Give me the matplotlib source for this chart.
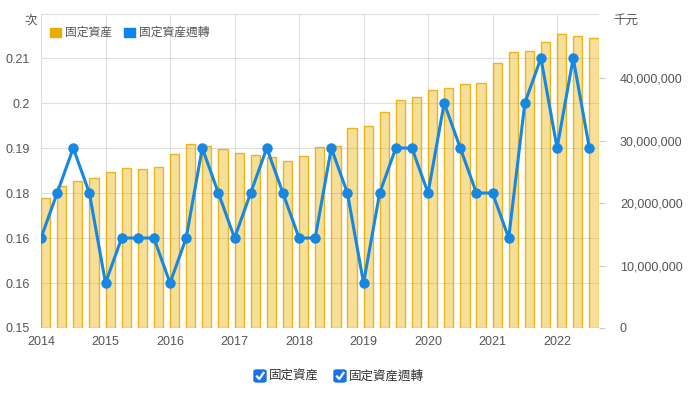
import matplotlib.pyplot as plt
from matplotlib.patches import Rectangle, FancyBboxPatch
from matplotlib.lines import Line2D
from matplotlib.ticker import FuncFormatter

plt.rcParams['font.family'] = ['Liberation Sans', 'Noto Sans CJK TC', 'DejaVu Sans']

# 四半期ラベル
quarters = [f"{y}Q{q}" for y in range(2014, 2023) for q in range(1, 5)][:35]

# 固定資産（千元）
fixed_assets = [20750000, 22700000, 23500000, 24050000, 24960000, 25550000, 25440000,
                25700000, 27800000, 29400000, 29200000, 28700000, 28050000, 27700000,
                27360000, 26670000, 27570000, 29000000, 29100000, 32000000, 32400000,
                34500000, 36500000, 36960000, 38080000, 38350000, 38990000, 39250000,
                42350000, 44100000, 44270000, 45700000, 47000000, 46770000, 46450000]

# 固定資産週轉（次）
turnover = [0.17, 0.18, 0.19, 0.18, 0.16, 0.17, 0.17, 0.17, 0.16, 0.17, 0.19, 0.18,
            0.17, 0.18, 0.19, 0.18, 0.17, 0.17, 0.19, 0.18, 0.16, 0.18, 0.19, 0.19,
            0.18, 0.20, 0.19, 0.18, 0.18, 0.17, 0.20, 0.21, 0.19, 0.21, 0.19]

left_ticks = [0.15, 0.16, 0.17, 0.18, 0.19, 0.20, 0.21]
left_labels = ['0.15', '0.16', '0.16', '0.18', '0.19', '0.2', '0.21']
right_ticks = [0, 10000000, 20000000, 30000000, 40000000]
years = list(range(2014, 2023))

bar_fill = (0.93, 0.70, 0.05, 0.42)
bar_edge = (0.90, 0.68, 0.0, 0.85)
line_color = '#1787e0'
grid_color = '#dedede'
text_color = '#555555'

x = [int(s[:4]) + (int(s[-1]) - 1) * 0.25 for s in quarters]

fig = plt.figure(figsize=(6.89, 3.93), dpi=100)
ax = fig.add_axes([41 / 689, 65 / 393, 558 / 689, 314 / 393])
ax2 = ax.twinx()

# 棒グラフは右軸
ax2.bar(x, fixed_assets, width=0.143, align='edge', facecolor=bar_fill,
        edgecolor=bar_edge, linewidth=1.0, zorder=2)
ax2.set_ylim(0, 50240000)
ax2.set_yticks(right_ticks)
ax2.yaxis.set_major_formatter(FuncFormatter(lambda v, p: f"{int(v):,}"))
ax2.tick_params(axis='y', length=4, color='#cccccc', labelsize=9,
                labelcolor=text_color, pad=11)

# 折れ線は左軸（前面に出す）
ax.set_zorder(ax2.get_zorder() + 1)
ax.patch.set_visible(False)
ax.plot(x, turnover, color=line_color, linewidth=2.2, marker='o',
        markersize=6.5, zorder=3)
ax.set_ylim(0.15, 0.2198)
ax.set_yticks(left_ticks)
ax.set_yticklabels(left_labels)
ax.set_xlim(2014, 2022.65)
ax.set_xticks(years)
ax.set_xticklabels([str(y) for y in years])
ax.tick_params(axis='y', length=0, labelsize=9, labelcolor=text_color, pad=8)
ax.tick_params(axis='x', length=0, labelsize=9, labelcolor=text_color, pad=6)

# グリッドは背面の軸に描く
for v in left_ticks + [0.2198]:
    ax2.axhline((v - 0.15) / (0.2198 - 0.15) * 50240000, color=grid_color,
                linewidth=0.8, zorder=0)
for y in years:
    ax2.axvline(y, color=grid_color, linewidth=0.8, zorder=0)

for a in (ax, ax2):
    for s in a.spines.values():
        s.set_visible(False)

# 軸単位
fig.text(31 / 689, 1 - 20 / 393, '次', ha='center', va='center', fontsize=9,
         color=text_color, family=['Noto Sans CJK TC', 'DejaVu Sans'])
fig.text(613 / 689, 1 - 20 / 393, '千元', ha='left', va='center', fontsize=9,
         color=text_color, family=['Noto Sans CJK TC', 'DejaVu Sans'])

# 上部凡例
def legend_item(x0, color, label):
    fig.patches.append(Rectangle((x0 / 689, 1 - 37 / 393), 11 / 689, 9 / 393,
                                 transform=fig.transFigure, color=color))
    fig.text((x0 + 15) / 689, 1 - 32 / 393, label, ha='left', va='center',
             fontsize=8.5, color=text_color, family=['Noto Sans CJK TC', 'DejaVu Sans'])

legend_item(50, '#e9ad00', '固定資産')
legend_item(124, '#0a84f0', '固定資産週轉')

# 下部チェックボックス
def checkbox(x0, label):
    cy = 376
    fig.patches.append(FancyBboxPatch((x0 / 689, 1 - (cy + 6) / 393), 12 / 689, 12 / 393,
                                      boxstyle='round,pad=0,rounding_size=0.004',
                                      transform=fig.transFigure, color='#1a73e8'))
    fig.lines.append(Line2D([(x0 + 3) / 689, (x0 + 5.3) / 689, (x0 + 9.5) / 689],
                            [1 - (cy + 0.5) / 393, 1 - (cy + 3) / 393, 1 - (cy - 3) / 393],
                            transform=fig.transFigure, color='white', linewidth=1.6))
    fig.text((x0 + 15) / 689, 1 - cy / 393, label, ha='left', va='center',
             fontsize=9, color='#333333', family=['Noto Sans CJK TC', 'DejaVu Sans'])

checkbox(254, '固定資産')
checkbox(334, '固定資産週轉')

fig.savefig('out.png', dpi=100)
